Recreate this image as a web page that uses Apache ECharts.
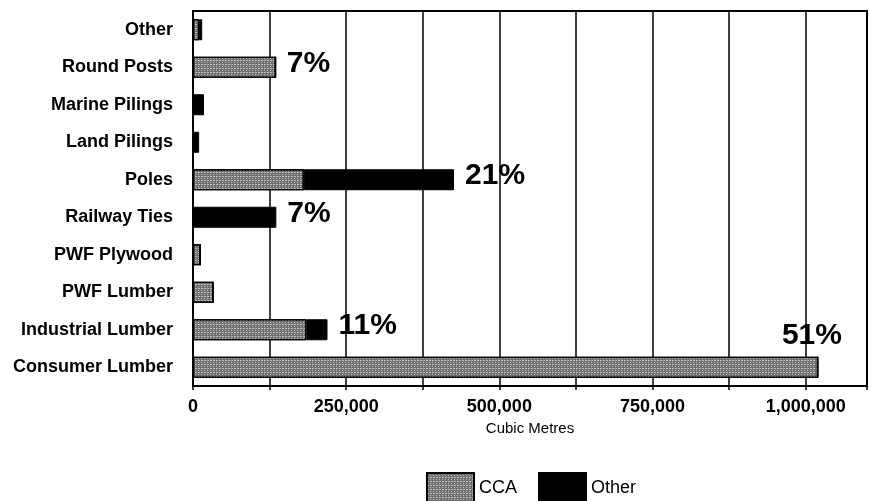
<!DOCTYPE html>
<html>
<head>
<meta charset="utf-8">
<script src="https://cdn.jsdelivr.net/npm/echarts@6/dist/echarts.min.js"></script>
<style>
html,body{margin:0;padding:0;background:#fff;}
#chart{width:870px;height:501px;}
</style>
</head>
<body>
<div id="chart"></div>
<script>
var categories = ['Other', 'Round Posts', 'Marine Pilings', 'Land Pilings', 'Poles',
  'Railway Ties', 'PWF Plywood', 'PWF Lumber', 'Industrial Lumber', 'Consumer Lumber'];
var ccaValues = [10000, 135000, 0, 0, 181000, 0, 12000, 33000, 185000, 1020000];
var otherValues = [5000, 0, 18000, 10000, 245000, 136000, 0, 0, 34500, 0];
var pctLabels = ['', '7%', '', '', '21%', '7%', '', '', '11%', '51%'];
var xTicks = [0, 250000, 500000, 750000, 1000000];

var pctFont = {
  fontFamily: '"Liberation Sans Narrow", "Liberation Sans", Arial, sans-serif',
  fontWeight: 'bold', fontSize: 30, color: '#000'
};

function labelFor(i, isOther) {
  var txt = pctLabels[i];
  if (!txt) return { show: false };
  var ownsLabel = isOther ? otherValues[i] > 0 : otherValues[i] === 0;
  if (!ownsLabel) return { show: false };
  if (categories[i] === 'Consumer Lumber') {
    return Object.assign({ show: true, formatter: txt, position: ['100%', 0],
      align: 'right', verticalAlign: 'bottom', offset: [24, -6] }, pctFont);
  }
  return Object.assign({ show: true, formatter: txt, position: 'right', distance: 11,
    offset: [0, -4] }, pctFont);
}

var ccaData = ccaValues.map(function (v, i) { return { value: v, label: labelFor(i, false) }; });
var otherData = otherValues.map(function (v, i) { return { value: v, label: labelFor(i, true) }; });

var speckle = {
  symbol: 'rect', symbolSize: 1, color: 'rgba(255,255,255,0.55)',
  dashArrayX: [[1, 2], [2, 1]], dashArrayY: [1, 1], rotation: 0
};

var chart = echarts.init(document.getElementById('chart'), null, { renderer: 'canvas' });
chart.setOption({
  animation: false,
  backgroundColor: '#fff',
  textStyle: { fontFamily: '"Liberation Sans", Arial, sans-serif' },
  grid: { left: 193, top: 11, right: 2, bottom: 115, show: true,
    borderColor: '#000', borderWidth: 2, backgroundColor: 'transparent' },
  legend: {
    left: 421, top: 467, itemWidth: 47, itemHeight: 30, itemGap: 21,
    icon: 'rect',
    textStyle: { fontSize: 18, color: '#000', fontFamily: '"Liberation Sans", Arial, sans-serif' },
    data: ['CCA', 'Other']
  },
  xAxis: {
    type: 'value', min: 0, max: 1100000, interval: 125000,
    name: 'Cubic Metres', nameLocation: 'middle', nameGap: 32,
    nameTextStyle: { fontSize: 15, color: '#000' },
    axisLine: { show: true, lineStyle: { color: '#000', width: 2 } },
    axisTick: { show: true, length: 4, lineStyle: { color: '#000', width: 1.5 } },
    splitLine: { show: true, lineStyle: { color: '#000', width: 1.5 } },
    axisLabel: {
      margin: 12, fontSize: 18, fontWeight: 'bold', color: '#000',
      formatter: function (v) {
        return xTicks.indexOf(v) >= 0 ? v.toLocaleString('en-US') : '';
      }
    }
  },
  yAxis: {
    type: 'category', data: categories, inverse: true,
    axisLine: { show: true, lineStyle: { color: '#000', width: 2 } },
    axisTick: { show: false },
    axisLabel: { margin: 20, fontSize: 18, fontWeight: 'bold', color: '#000' }
  },
  series: [
    { name: 'CCA', type: 'bar', stack: 'total', barWidth: 21, data: ccaData,
      itemStyle: { color: '#707070', borderColor: '#000', borderWidth: 1.2, decal: speckle } },
    { name: 'Other', type: 'bar', stack: 'total', barWidth: 21, data: otherData,
      itemStyle: { color: '#000', borderColor: '#000', borderWidth: 1 } }
  ]
});
</script>
</body>
</html>
